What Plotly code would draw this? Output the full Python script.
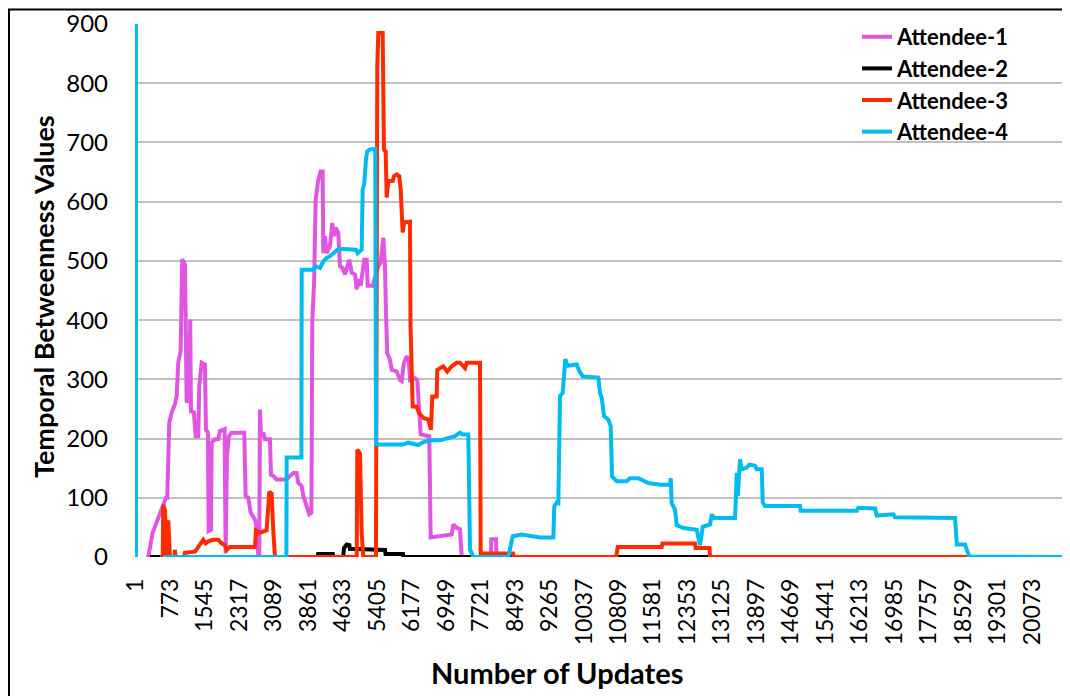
import plotly.graph_objects as go

FONT = "Lato, 'Open Sans', sans-serif"

tick_labels = ["1", "773", "1545", "2317", "3089", "3861", "4633", "5405", "6177", "6949",
               "7721", "8493", "9265", "10037", "10809", "11581", "12353", "13125", "13897",
               "14669", "15441", "16213", "16985", "17757", "18529", "19301", "20073"]
tick_values = [int(t) for t in tick_labels]

series_names = ["Attendee-1", "Attendee-2", "Attendee-3", "Attendee-4"]
series_colors = ["#E055E2", "#000000", "#FF2A00", "#00BCF0"]

# Attendee-1 (vertices)
a1_x = [230, 276, 374, 612, 672, 701, 746, 800, 874, 912, 948, 1001, 1037, 1098, 1136, 1172,
        1194, 1216, 1232, 1299, 1337, 1396, 1418, 1472, 1546, 1568, 1613, 1628, 1680, 1696,
        1770, 1844, 1882, 1986, 2009, 2038, 2083, 2143, 2426, 2457, 2516, 2569, 2666, 2717,
        2740, 2762, 2778, 2800, 2852, 2890, 3002, 3024, 3076, 3152, 3376, 3450, 3524, 3600,
        3636, 3712, 3748, 3824, 3882, 3930, 3950, 3990, 4025, 4084, 4137, 4182, 4196, 4234,
        4272, 4346, 4397, 4435, 4473, 4532, 4570, 4630, 4682, 4778, 4832, 4906, 4944, 5002,
        5033, 5114, 5168, 5190, 5302, 5428, 5481, 5540, 5578, 5600, 5629, 5690, 5728, 5840,
        5914, 5952, 6003, 6064, 6108, 6138, 6250, 6301, 6324, 6362, 6377, 6570, 6601, 7072,
        7108, 7184, 7258, 7296, 7950, 7960, 8065, 8075, 20830]
a1_y = [0, 0, 41, 86, 100, 100, 227, 244, 258, 272, 328, 348, 503, 494, 261, 266,
        401, 401, 246, 244, 204, 204, 289, 328, 325, 215, 210, 44, 46, 193,
        199, 199, 213, 216, 6, 170, 204, 210, 210, 103, 100, 75, 63, 46,
        0, 0, 249, 204, 210, 199, 199, 139, 137, 131, 131, 137, 142, 142,
        125, 120, 103, 86, 72, 75, 400, 463, 603, 637, 651, 651, 513, 542,
        513, 525, 564, 542, 556, 547, 491, 488, 477, 502, 480, 477, 452, 469,
        458, 502, 502, 458, 458, 491, 497, 539, 491, 412, 344, 333, 316, 313,
        299, 297, 328, 339, 333, 299, 302, 299, 277, 232, 207, 204, 33, 38,
        55, 49, 47, 0, 0, 30, 30, 0, 0]

# Attendee-2
a2_x = [314, 4066, 4080, 4410, 4420, 4640, 4660, 4720, 4780, 4790, 5578, 5590, 5980, 5990, 20830]
a2_y = [0, 0, 5, 5, 0, 0, 15, 21, 20, 14, 12, 5, 5, 0, 0]

# Attendee-3
a3_x = [540, 600, 612, 650, 688, 724, 762, 860, 874, 888, 1080, 1098, 1322, 1396, 1508, 1560,
        1612, 1724, 1844, 1920, 1994, 2032, 2106, 2666, 2688, 2778, 2927, 2986, 3040, 3076,
        3114, 4945, 4958, 5018, 5056, 5092, 5376, 5405, 5428, 5526, 5555, 5593, 5616, 5652,
        5750, 5779, 5840, 5898, 5929, 5974, 6010, 6138, 6150, 6198, 6287, 6339, 6436, 6548,
        6608, 6637, 6736, 6749, 6884, 6973, 7072, 7184, 7258, 7370, 7408, 7706, 7721, 8445,
        8460, 10756, 10767, 10790, 11776, 11790, 12522, 12535, 12846, 12858, 20830]
a3_y = [0, 0, 88, 79, 0, 62, 0, 0, 12, 0, 0, 7, 9, 17, 29, 23,
        26, 29, 29, 23, 20, 12, 17, 17, 45, 41, 45, 110, 107, 44,
        0, 0, 181, 175, 40, 0, 0, 826, 885, 885, 688, 685, 607, 635,
        635, 643, 646, 643, 621, 548, 565, 566, 389, 254, 254, 243, 235, 232,
        215, 271, 271, 316, 322, 313, 322, 328, 328, 319, 328, 328, 6, 6,
        0, 0, 13, 17, 17, 23, 23, 15, 15, 0, 0]

# Attendee-4 (the first value lies above the axis maximum)
a4_x = [1, 2, None, 612, 3370, 3376, 3706, 3712, 3972, 4025, 4122, 4196, 4272, 4346, 4420,
        4532, 4644, 4928, 4966, 5056, 5078, 5114, 5152, 5181, 5242, 5360, 5376, 5988, 6099,
        6324, 6436, 6623, 6810, 6996, 7146, 7258, 7318, 7444, 7482, 7556, 8340, 8393, 8438,
        8640, 8714, 9050, 9348, 9370, 9424, 9460, 9498, 9558, 9587, 9616, 9661, 9872, 9930,
        10006, 10356, 10394, 10432, 10483, 10580, 10633, 10662, 10767, 10991, 11066, 11252,
        11402, 11476, 11738, 11962, 11977, 11999, 12074, 12111, 12260, 12560, 12634, 12694,
        12858, 12896, 12947, 13232, 13418, 13456, 13478, 13530, 13568, 13680, 13739, 13866,
        13904, 14016, 14038, 14090, 14874, 14889, 16144, 16180, 16554, 16592, 16964, 17002,
        18160, 18346, 18384, 18570, 18608, 18666, 20830]
a4_y = [1000, 0, None, 0, 0, 168, 168, 485, 485, 491, 488, 499, 505, 508, 513,
        520, 520, 519, 513, 519, 620, 631, 671, 685, 688, 689, 190, 190, 193,
        189, 194, 197, 197, 201, 204, 210, 207, 207, 13, 0, 0, 19, 35,
        38, 37, 33, 33, 86, 92, 91, 272, 277, 306, 334, 323, 325, 314,
        305, 303, 277, 269, 238, 232, 221, 136, 128, 128, 133, 133,
        128, 125, 122, 122, 133, 91, 80, 54, 49, 46, 20, 51,
        55, 72, 66, 65, 66, 142, 103, 165, 148, 151, 156, 154,
        148, 148, 92, 86, 86, 78, 78, 83, 82, 70, 72, 67,
        67, 66, 21, 21, 12, 1, 0]

xs = [a1_x, a2_x, a3_x, a4_x]
ys = [a1_y, a2_y, a3_y, a4_y]

fig = go.Figure()
for name, color, x, y in zip(series_names, series_colors, xs, ys):
    fig.add_trace(go.Scatter(x=x, y=y, name=name, mode="lines",
                             line=dict(color=color, width=4), connectgaps=False))

# The page body adds an 8px offset; targets below are screen pixel positions.
OFF = 8
W, H = 1070, 696
PL, PR, PT, PB = 135, 1066, 24, 557  # plot area on screen
L = PL - OFF
R = W - (PR - OFF)
T = PT - OFF
B = H - (PB - OFF)
pw = PR - PL
ph = PB - PT

def px(xs_):
    return (xs_ - PL) / pw

def py(ys_):
    return (PB - ys_) / ph

fig.update_layout(
    template="none",
    width=W, height=H,
    margin=dict(l=L, r=R, t=T, b=B, pad=0, autoexpand=False),
    paper_bgcolor="white", plot_bgcolor="white",
    font=dict(family=FONT, color="black"),
    showlegend=True,
    legend=dict(x=px(857), y=py(16), xanchor="left", yanchor="top",
                bgcolor="rgba(0,0,0,0)", borderwidth=0,
                font=dict(size=22, family=FONT, weight="bold", color="black"),
                itemwidth=30, tracegroupgap=0),
    xaxis=dict(range=[-21, 20830], tickmode="array", tickvals=tick_values, ticktext=tick_labels,
               tickangle=-90, tickfont=dict(size=23, family=FONT, color="black"), showgrid=False,
               zeroline=False, showline=False, ticks="", ticklabelstandoff=16,
               automargin=False),
    yaxis=dict(range=[0, 900], tickmode="linear", tick0=0, dtick=100,
               tickfont=dict(size=24, family=FONT, color="black"),
               showgrid=True, gridcolor="#C0C0C0", gridwidth=1.5, zeroline=False,
               showline=False, ticks="", ticklabelstandoff=26, automargin=False),
    annotations=[
        dict(text="<b>Temporal Betweenness Values</b>", xref="paper", yref="paper",
             x=px(43), y=py(297), textangle=-90, showarrow=False,
             font=dict(size=27, family=FONT, color="black"), xanchor="center", yanchor="middle"),
        dict(text="<b>Number of Updates</b>", xref="paper", yref="paper",
             x=px(557), y=py(672), showarrow=False,
             font=dict(size=29, family=FONT, color="black"), xanchor="center", yanchor="middle"),
    ],
    shapes=[
        dict(type="rect", xref="paper", yref="paper", x0=px(9), x1=px(1090),
             y0=py(720), y1=py(9.5), line=dict(color="black", width=2), fillcolor="rgba(0,0,0,0)",
             layer="below"),
    ],
)

fig.write_html("out.html")
